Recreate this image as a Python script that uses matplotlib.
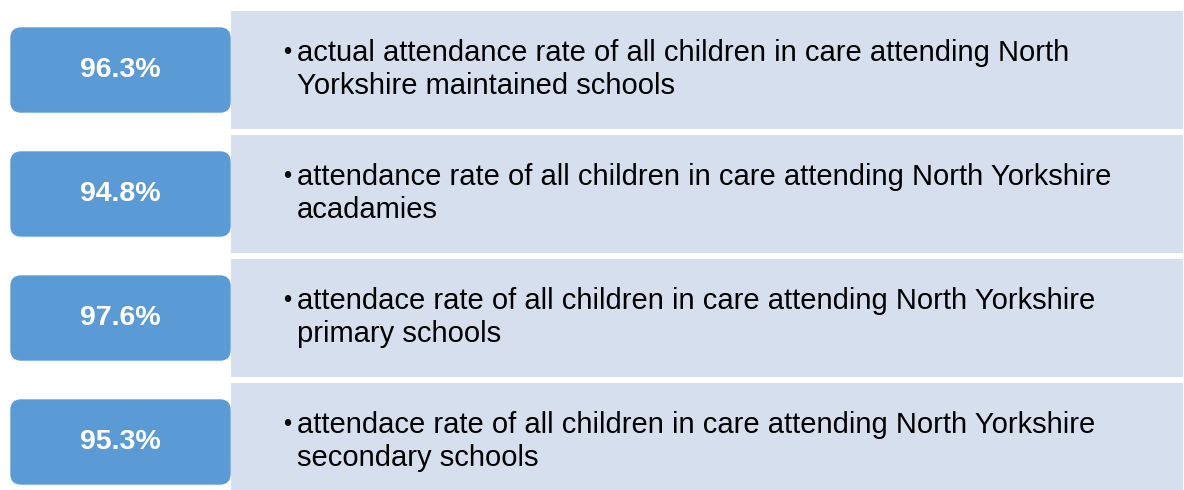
import matplotlib.pyplot as plt
from matplotlib.patches import FancyBboxPatch, Rectangle

plt.rcParams['font.family'] = ['Liberation Sans', 'DejaVu Sans']

# values and labels
rates = ['96.3%', '94.8%', '97.6%', '95.3%']
lines1 = [
    'actual attendance rate of all children in care attending North',
    'attendance rate of all children in care attending North Yorkshire',
    'attendace rate of all children in care attending North Yorkshire',
    'attendace rate of all children in care attending North Yorkshire',
]
lines2 = [
    'Yorkshire maintained schools',
    'acadamies',
    'primary schools',
    'secondary schools',
]

fig = plt.figure(figsize=(11.84, 4.9), dpi=100)
ax = fig.add_axes([0, 0, 1, 1])
ax.set_xlim(0, 1184)
ax.set_ylim(490, 0)
ax.axis('off')

pitch = 124
for i, (r, a, b) in enumerate(zip(rates, lines1, lines2)):
    top = 11 + i * pitch
    # light panel
    ax.add_patch(Rectangle((231, top), 952, 118, facecolor='#D5DFEE',
                           edgecolor='none'))
    # blue box
    cy = top + 59
    ax.add_patch(FancyBboxPatch((14, cy - 39), 213, 78,
                                boxstyle='round,pad=3,rounding_size=10',
                                facecolor='#5B9BD5', edgecolor='#5B9BD5'))
    ax.text(120, cy, r, color='white', fontsize=20.5, fontweight='bold',
            ha='center', va='center')
    ax.text(283, cy - 17, '•', fontsize=17, ha='left', va='center',
            color='black')
    ax.text(297, cy - 17, a, fontsize=21, ha='left', va='center',
            color='black')
    ax.text(297, cy + 16, b, fontsize=21, ha='left', va='center',
            color='black')

plt.savefig('out.png', dpi=100)
